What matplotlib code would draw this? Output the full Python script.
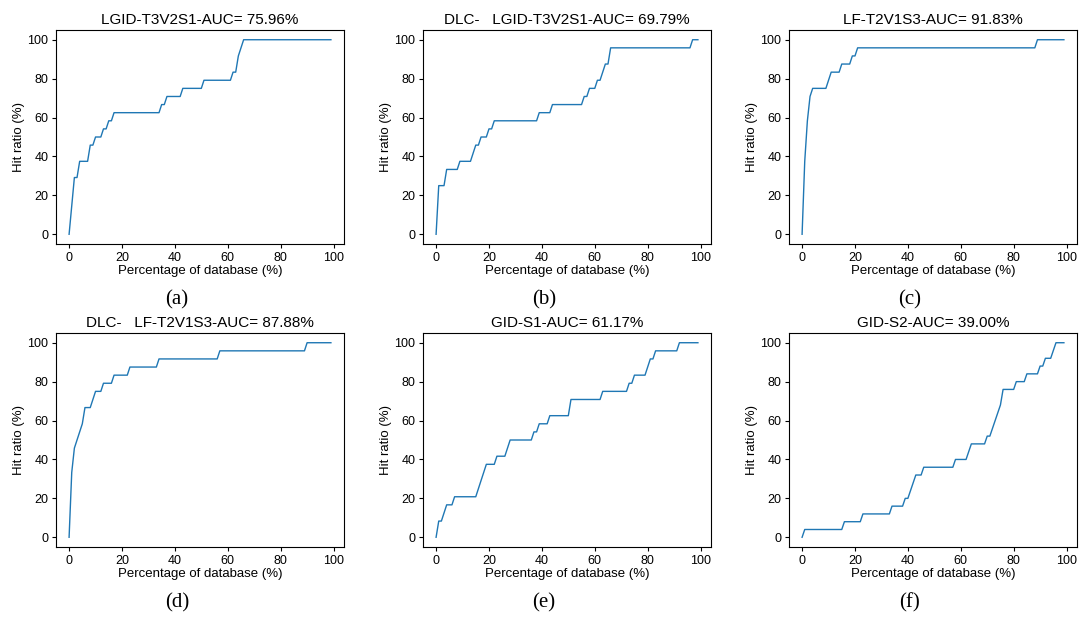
import matplotlib
matplotlib.use('Agg')
import matplotlib.pyplot as plt

plt.rcParams['font.family'] = ['Liberation Sans', 'DejaVu Sans']

# (a) LGID-T3V2S1
xa = [0, 2, 3, 4, 7, 8, 9, 10, 12, 13, 14, 15, 16, 17, 34, 35, 36, 37, 42, 43, 50, 51, 61, 62, 63, 64, 66, 99]
ya = [0, 29.17, 29.17, 37.5, 37.5, 45.83, 45.83, 50, 50, 54.17, 54.17, 58.33, 58.33, 62.5, 62.5, 66.67,
      66.67, 70.83, 70.83, 75, 75, 79.17, 79.17, 83.33, 83.33, 91.67, 100, 100]

# (b) DLC- LGID-T3V2S1
xb = [0, 1, 3, 4, 8, 9, 13, 14, 15, 16, 17, 19, 20, 21, 22, 38, 39, 43, 44, 55, 56, 57, 58, 60, 61, 62,
      63, 64, 65, 66, 96, 97, 99]
yb = [0, 25, 25, 33.33, 33.33, 37.5, 37.5, 41.67, 45.83, 45.83, 50, 50, 54.17, 54.17, 58.33, 58.33, 62.5,
      62.5, 66.67, 66.67, 70.83, 70.83, 75, 75, 79.17, 79.17, 83.33, 87.5, 87.5, 95.83, 95.83, 100, 100]

# (c) LF-T2V1S3
xc = [0, 1, 2, 3, 4, 9, 10, 11, 14, 15, 18, 19, 20, 21, 88, 89, 99]
yc = [0, 37.5, 58.33, 70.83, 75, 75, 79.17, 83.33, 83.33, 87.5, 87.5, 91.67, 91.67, 95.83, 95.83, 100, 100]

# (d) DLC- LF-T2V1S3
xd = [0, 1, 2, 3, 4, 5, 6, 8, 9, 10, 12, 13, 16, 17, 22, 23, 33, 34, 56, 57, 89, 90, 99]
yd = [0, 33.33, 45.83, 50, 54.17, 58.33, 66.67, 66.67, 70.83, 75, 75, 79.17, 79.17, 83.33, 83.33, 87.5,
      87.5, 91.67, 91.67, 95.83, 95.83, 100, 100]

# (e) GID-S1
xe = [0, 1, 2, 3, 4, 6, 7, 15, 16, 17, 18, 19, 22, 23, 26, 27, 28, 36, 37, 38, 39, 42, 43, 50, 51, 62,
      63, 72, 73, 74, 75, 79, 80, 81, 82, 83, 91, 92, 99]
ye = [0, 8.33, 8.33, 12.5, 16.67, 16.67, 20.83, 20.83, 25, 29.17, 33.33, 37.5, 37.5, 41.67, 41.67, 45.83,
      50, 50, 54.17, 54.17, 58.33, 58.33, 62.5, 62.5, 70.83, 70.83, 75, 75, 79.17, 79.17, 83.33, 83.33,
      87.5, 91.67, 91.67, 95.83, 95.83, 100, 100]

# (f) GID-S2
xf = [0, 1, 15, 16, 22, 23, 33, 34, 38, 39, 40, 41, 42, 43, 45, 46, 57, 58, 62, 63, 64, 69, 70, 71, 72,
      73, 74, 75, 76, 80, 81, 84, 85, 89, 90, 91, 92, 94, 95, 96, 99]
yf = [0, 4, 4, 8, 8, 12, 12, 16, 16, 20, 20, 24, 28, 32, 32, 36, 36, 40, 40, 44, 48, 48, 52, 52, 56, 60,
      64, 68, 76, 76, 80, 80, 84, 84, 88, 88, 92, 92, 96, 100, 100]

titles = ['LGID-T3V2S1-AUC= 75.96%', 'DLC-   LGID-T3V2S1-AUC= 69.79%', 'LF-T2V1S3-AUC= 91.83%',
          'DLC-   LF-T2V1S3-AUC= 87.88%', 'GID-S1-AUC= 61.17%', 'GID-S2-AUC= 39.00%']
letters = ['(a)', '(b)', '(c)', '(d)', '(e)', '(f)']
curves = [(xa, ya), (xb, yb), (xc, yc), (xd, yd), (xe, ye), (xf, yf)]

W, H = 1081, 617
fig = plt.figure(figsize=(W / 100, H / 100), dpi=100)

lefts = [56, 423, 789]
tops = [30, 333]
aw, ah = 288, 214

for i in range(6):
    r, c = divmod(i, 3)
    ax = fig.add_axes([lefts[c] / W, 1 - (tops[r] + ah) / H, aw / W, ah / H])
    x, y = curves[i]
    ax.plot(x, y, color='#1f77b4', linewidth=1)
    ax.set_xticks([0, 20, 40, 60, 80, 100])
    ax.set_yticks([0, 20, 40, 60, 80, 100])
    ax.tick_params(labelsize=9, length=3, width=0.8, pad=2.5)
    ax.set_xlabel('Percentage of database (%)', fontsize=9.5, labelpad=1)
    ax.set_ylabel('Hit ratio (%)', fontsize=9.5, labelpad=2)
    ax.set_title(titles[i], fontsize=11, pad=4)
    fig.text((lefts[c] + aw / 2 - 23) / W, 1 - (tops[r] + ah + 56) / H, letters[i],
             family='Liberation Serif', fontsize=15, ha='center', va='center')

fig.savefig('out.png', dpi=100)
